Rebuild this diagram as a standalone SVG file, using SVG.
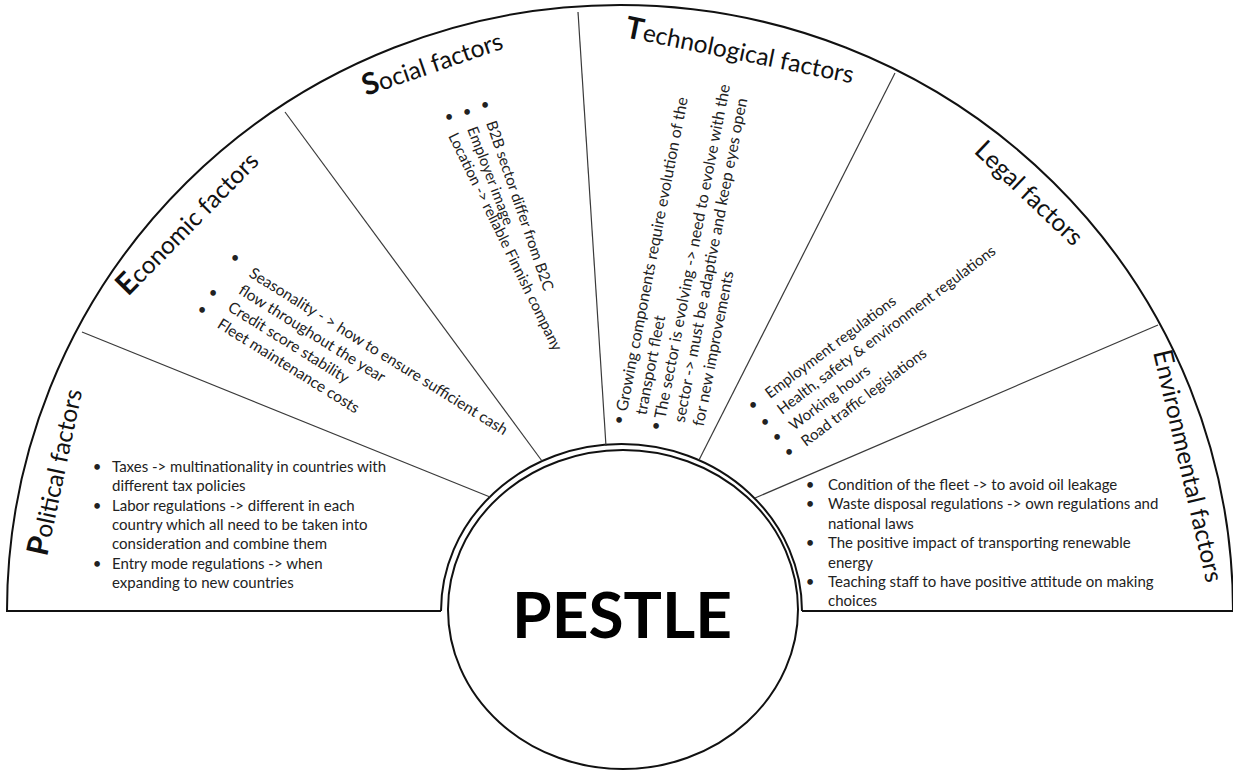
<svg xmlns="http://www.w3.org/2000/svg" width="1233" height="771" viewBox="0 0 1233 771">
<style>
.frame{fill:none;stroke:#111;stroke-width:2}
.div{fill:none;stroke:#3a3a3a;stroke-width:1.2}
.ttl{font-family:Lato,"Liberation Sans",sans-serif;font-size:24.5px;fill:#111}
.cap{font-size:30px;font-weight:bold}
.capn{font-size:27px}
.body{font-family:Lato,"Liberation Sans",sans-serif;font-size:15px;fill:#222}
.bul{font-family:Lato,"Liberation Sans",sans-serif;font-size:15px;fill:#222;text-anchor:middle}
.hub{font-family:Lato,"Liberation Sans",sans-serif;font-size:64px;font-weight:bold;fill:#000;text-anchor:middle}
</style>
<rect width="1233" height="771" fill="#fff"/>
<g id="fan">
<path d="M 441 611 L 7 611 A 613 606 0 0 1 1233 611 L 802 611" fill="#fff" class="frame"/>
<path d="M 441 611 A 180.5 167 0 0 1 802 611" class="frame"/>
</g>
<g id="connectors">
<line x1="82" y1="332" x2="490" y2="497" class="div"/>
<line x1="285" y1="112" x2="542" y2="461" class="div"/>
<line x1="578" y1="12" x2="606" y2="446" class="div"/>
<line x1="895" y1="73" x2="699" y2="460" class="div"/>
<line x1="1158" y1="325" x2="755" y2="498" class="div"/>
</g>
<g id="political">
<text class="ttl" transform="translate(47,557) rotate(-78)"><tspan class="cap">P</tspan>olitical factors</text>
<text class="bul" x="97" y="472">•</text>
<text class="bul" x="97" y="510.6">•</text>
<text class="bul" x="97" y="568.5">•</text>
<text class="body" x="112" y="472">Taxes -&gt; multinationality in countries with</text>
<text class="body" x="112" y="491.3">different tax policies</text>
<text class="body" x="112" y="510.6">Labor regulations -&gt; different in each</text>
<text class="body" x="112" y="529.9">country which all need to be taken into</text>
<text class="body" x="112" y="549.2">consideration and combine them</text>
<text class="body" x="112" y="568.5">Entry mode regulations -&gt; when</text>
<text class="body" x="112" y="587.8">expanding to new countries</text>
</g>
<g id="economic">
<text class="ttl" transform="translate(128,297) rotate(-45.5)"><tspan class="cap">E</tspan>conomic factors</text>
<text class="bul" x="235" y="263">•</text>
<text class="bul" x="213" y="298">•</text>
<text class="bul" x="202" y="315">•</text>
<g transform="translate(248,276) rotate(32)" style="font-size:15.5px">
<text class="body" x="0" y="0" style="font-size:15.5px">Seasonality - &gt; how to ensure sufficient cash</text>
<text class="body" x="0" y="20" style="font-size:15.5px">flow throughout the year</text>
<text class="body" x="0" y="40" style="font-size:15.5px">Credit score stability</text>
<text class="body" x="0" y="60" style="font-size:15.5px">Fleet maintenance costs</text>
</g>
</g>
<g id="social">
<text class="ttl" transform="translate(366,96) rotate(-19)"><tspan class="cap">S</tspan>ocial factors</text>
<text class="bul" x="485" y="110">•</text>
<text class="bul" x="467" y="117">•</text>
<text class="bul" x="449" y="122">•</text>
<text class="body" transform="translate(486,123) rotate(71)">B2B sector differ from B2C</text>
<text class="body" transform="translate(467,129) rotate(69)">Employer image</text>
<text class="body" transform="translate(448,136) rotate(64)">Location -&gt; reliable Finnish company</text>
</g>
<g id="technological">
<text class="ttl" transform="translate(624,37) rotate(11.5)"><tspan class="cap">T</tspan>echnological factors</text>
<text class="bul" x="619" y="425">•</text>
<text class="bul" x="656" y="431">•</text>
<g transform="translate(627,412) rotate(-79)">
<text class="body" x="0" y="0" style="font-size:16px">Growing components require evolution of the</text>
<text class="body" x="0" y="19.5" style="font-size:16px">transport fleet</text>
<text class="body" x="0" y="39" style="font-size:16px">The sector is evolving -&gt; need to evolve with the</text>
<text class="body" x="0" y="58.5" style="font-size:16px">sector -&gt; must be adaptive and keep eyes open</text>
<text class="body" x="0" y="78" style="font-size:16px">for new improvements</text>
</g>
</g>
<g id="legal">
<text class="ttl" transform="translate(973,152) rotate(43.5)"><tspan class="capn">L</tspan>egal factors</text>
<text class="bul" x="753" y="410">•</text>
<text class="bul" x="765" y="427">•</text>
<text class="bul" x="777" y="442">•</text>
<text class="bul" x="789" y="457">•</text>
<g transform="translate(770,399) rotate(-37)">
<text class="body" x="0" y="0">Employment regulations</text>
<text class="body" x="0" y="20">Health, safety &amp; environment regulations</text>
<text class="body" x="0" y="40">Working hours</text>
<text class="body" x="0" y="60">Road traffic legislations</text>
</g>
</g>
<g id="environmental">
<text class="ttl" transform="translate(1153,352) rotate(77)"><tspan class="capn">E</tspan>nvironmental factors</text>
<text class="bul" x="810" y="490">•</text>
<text class="bul" x="810" y="509.4">•</text>
<text class="bul" x="810" y="548.2">•</text>
<text class="bul" x="810" y="587">•</text>
<text class="body" x="828" y="490">Condition of the fleet -&gt; to avoid oil leakage</text>
<text class="body" x="828" y="509.4">Waste disposal regulations -&gt; own regulations and</text>
<text class="body" x="828" y="528.8">national laws</text>
<text class="body" x="828" y="548.2">The positive impact of transporting renewable</text>
<text class="body" x="828" y="567.6">energy</text>
<text class="body" x="828" y="587">Teaching staff to have positive attitude on making</text>
<text class="body" x="828" y="606.4">choices</text>
</g>
<g id="pestle">
<ellipse cx="623" cy="609.5" rx="175" ry="159.5" fill="#fff" stroke="#111" stroke-width="2"/>
<text class="hub" x="622" y="638">PESTLE</text>
</g>
</svg>
